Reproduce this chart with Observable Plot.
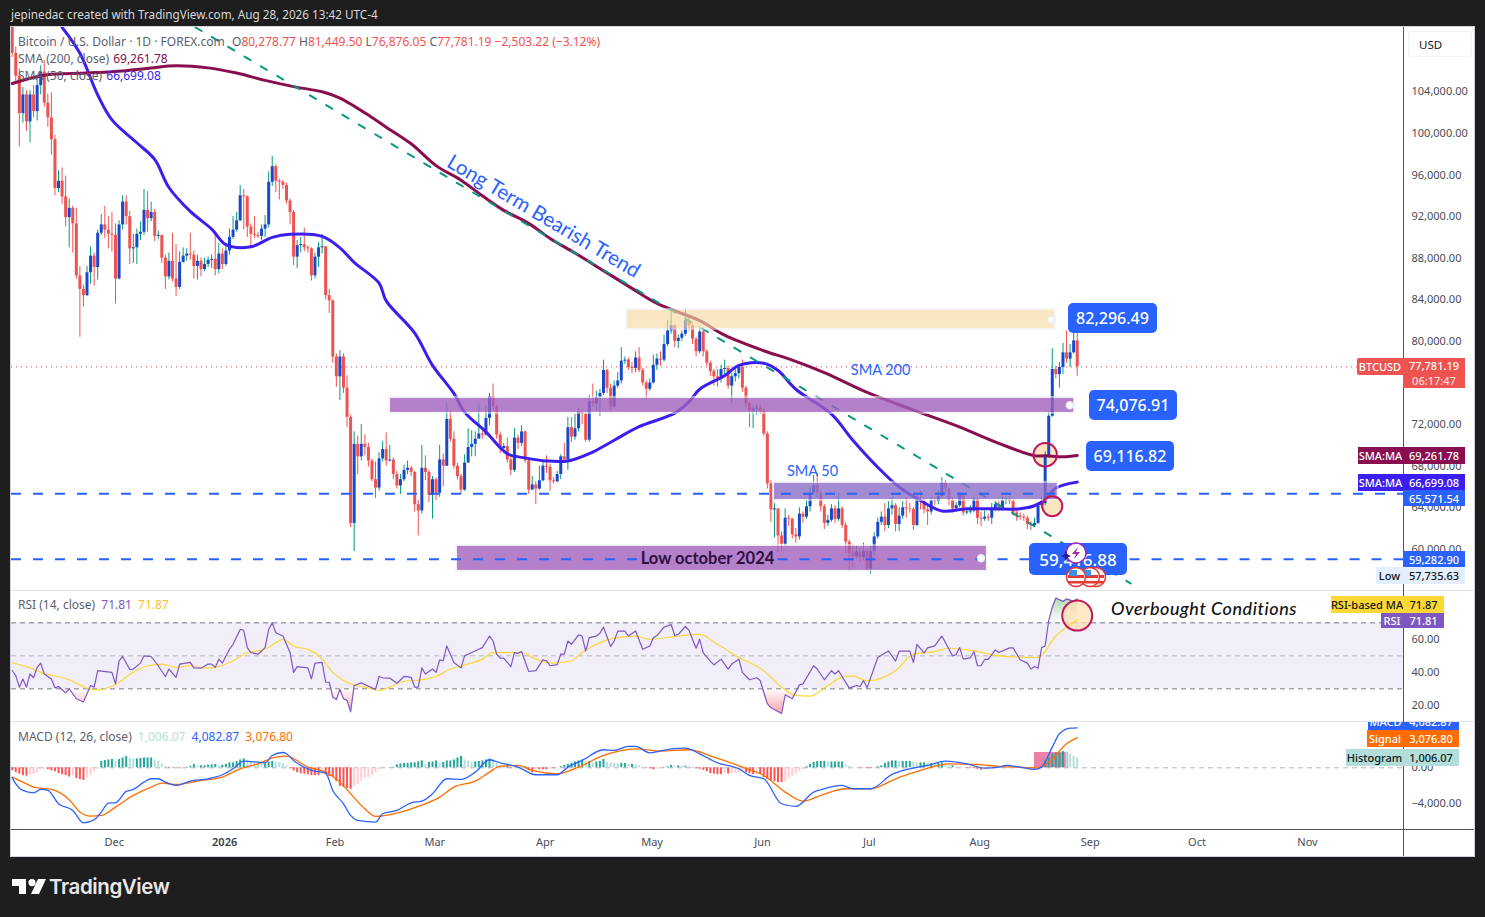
<!DOCTYPE html>
<html><head><meta charset="utf-8">
<script src="https://cdn.jsdelivr.net/npm/d3@7"></script>
<script src="https://cdn.jsdelivr.net/npm/@observablehq/plot@0.6"></script>
<style>
html,body{margin:0;padding:0;background:#1e1e1e;overflow:hidden}
#root{position:relative;width:1485px;height:917px;overflow:hidden;font-family:"Noto Sans",sans-serif}
#root svg{position:absolute;left:0;top:0}
.abs{position:absolute;white-space:nowrap;box-sizing:border-box}
.tag{position:absolute;white-space:nowrap;font-size:11px;line-height:1;display:flex;align-items:center;justify-content:center;overflow:hidden;font-weight:500}
.leg{position:absolute;white-space:nowrap;font-size:12px;line-height:14px;color:#5d606b}
.call{position:absolute;background:#2962ff;color:#fff;border-radius:5px;font-size:16px;font-weight:500;display:flex;align-items:center;justify-content:center}
</style></head><body><div id="root"></div>
<script>
// thousand-USD readings, one per day from 2 Nov 2025
const firstOpen = 110.6;
const closes = [
107.7,105.5,101.9,103.7,101.1,103.7,102.1,104.6,105.9,102.9,
101.5,99.4,94.7,95.4,93.9,91.9,92.8,91.3,86.3,85,
84.4,86.6,88.2,87.1,90.4,91.2,90.7,90.3,90.2,86,
91.2,93.4,92,88.9,89,90.3,90.5,92.6,91.8,92.4,
90.1,90.2,88,86.2,87.7,86,85.2,87.6,88.2,88.4,
88.3,87.2,87.7,86.9,87.4,87.8,87.9,86.9,88.4,87.4,
88.7,90,90.7,91.6,94,93.9,91,90.3,90.2,90.1,
90.8,91.2,95.3,96.8,95.4,95.3,95,93.5,92.4,88.1,
89.2,89.3,89,88.9,86.3,88.1,89,89.1,84.4,83.9,
78.5,76.6,78.5,75.5,72.7,62.5,70.1,68.9,70.1,69.8,
68.5,66.7,65.9,68.7,69.6,68.5,68.6,67.2,66.1,66.7,
67.6,67.8,67.4,64.3,63.7,67.8,67.4,65.2,66.7,65.4,
68.6,68,72.5,70.6,68,67,65.7,68.3,69.8,70.1,
70.6,71.1,71,72.6,74.7,73.7,71,69.7,69.9,68.6,
67.6,70.7,70.2,71.3,68.5,65.7,66.2,65.8,66.6,68,
67.9,66.6,66.5,67.2,68.9,68.6,71.7,70.8,71.6,73.2,
73,70.5,74.2,74,74.6,75,77.2,75.5,73.7,75.7,
76.2,78.1,78.2,77.5,77.4,78.4,77.2,76,75.4,76,
77.7,78.3,78.2,79.7,81,81.5,80,80.3,80.7,82,
81.5,80.2,79,80.9,79,77.9,77.1,76.6,76.4,77.3,
77.4,75.7,76.6,76.9,77.5,75.5,74,73.3,73.5,73.6,
73.3,71.1,66.3,63.8,63.9,61.3,60.5,63,62.9,61.4,
61.2,63.4,63.1,64.1,65.4,66.1,65.4,64.1,62.5,62.8,
63.9,62.9,63.9,62.3,60.7,59.6,59.3,59.75,59.2,59.8,
58.1,59.8,61.2,62.6,63.1,62.3,63.9,64.2,62.4,63.2,
64,63.9,63.85,62.3,64.8,64.6,63.8,63.6,64.7,64.6,
65.1,66.4,65.8,64.7,63.9,64.2,65.2,63.5,63.6,63.7,
64.8,63,62.9,63.1,63,63.8,64.3,63.9,64.7,64.75,
64.6,63.5,63.2,63.1,63,62.4,62.3,62.5,64.2,64.4,
69,72.8,77.3,76.8,77.5,78.9,78.3,78.9,80.05,77.55];
const highs = [
111,108.3,106.2,104.4,104.1,104.1,104.6,105.5,106.5,107,
103.8,103.9,99.8,96.4,96.7,95.9,93.7,93,92.8,87.2,
85.4,87.2,89.1,88.5,90.7,92.2,93,92,92.4,91.3,
91.6,94,94,92.5,90.3,90.8,91.5,94.6,94.4,93.4,
92.7,90.6,90.2,88.3,88.5,90.4,89.3,88.6,89,88.9,
90.4,88.7,88.3,88,88,88.1,88.3,90.4,89.4,88.9,
89.3,90.8,92,92.4,95,94.6,94,91.3,92,90.5,
91.2,92.1,96.3,97.8,97,95.6,95.5,95.2,93.7,92.6,
89.7,90,90.9,89.2,89,88.5,89.5,90.3,89.1,85,
84,78.8,79.1,78.8,76.7,72.9,71.3,70.9,72,71,
70.2,68.7,68.4,69.3,70.4,71.2,70,68.8,67.5,67.2,
68.1,68.5,68,67.5,64.7,70,69,67.6,67,66.9,
70,69.2,74,73.4,71.3,68.3,67.2,69.1,71.6,71.4,
71.3,73.9,71.4,73.7,75,75.9,73.9,71.3,70.2,70.7,
68.9,71.6,71,71.9,71.4,68.8,67,66.5,68,68.4,
69,68.2,66.9,67.5,69.1,70.2,72.7,72.7,73,73.6,
73.4,73.2,74.8,75.9,75.2,75.4,78.2,77.3,75.9,76.2,
77,79.4,78.5,78.4,78,79,79.4,77.4,76.2,76.4,
78.7,78.8,79,80.6,82,83,81.6,80.6,81,83.1,
82.4,81.6,80.4,81.4,81.2,79.2,78.1,77.3,77.3,77.7,
78.2,77.6,76.9,77.4,77.7,78.2,75.7,74.2,73.8,73.9,
73.9,73.5,71.3,66.6,64.4,63.9,61.7,63.9,63.3,63,
62,64,63.6,64.7,65.9,67.1,67.3,65.6,64.3,63.3,
64.3,64.2,65.4,64.1,62.6,60.9,60.4,60.3,60.1,60.6,
60,60.3,61.6,63,63.6,64.4,64.6,65,64.4,64,
64.6,65,64.4,64,65.4,65.6,64.9,64.2,65,65,
65.7,66.9,66.6,65.9,64.9,64.5,65.5,65.3,63.9,64.2,
65,64.9,63.6,63.7,63.4,64.4,64.6,64.6,65.1,65,
65.1,64.8,63.8,63.5,63.4,63.2,62.7,63,64.5,65,
69.4,73.2,79.3,77.6,78,79.8,81,79.7,80.9,81.22];
const lows = [
107.3,105,98.7,101,100.2,99.1,101.5,101.2,103.7,102.5,
100.6,97.9,94,94.3,93.2,91,89,88.5,86,80.4,
83.3,84.3,85.5,85.3,85.9,90.2,89.9,88.9,88.6,83.6,
85.9,90.7,91.2,87.4,87.5,87.4,89.7,90.2,90.5,91.5,
89.6,89.8,87.5,85,85.9,85.7,84.3,85,87.5,87.7,
87.8,86,85.9,86.2,86.7,87.1,87,86.3,86.5,86.9,
87.2,88.3,89.8,90.5,91.5,90.7,90,88.9,89.9,89.9,
89.7,90,90.9,94.9,94.3,93.6,94.6,93.2,91.2,87.3,
87,88.5,88.6,88.5,85.8,86,87.1,88.4,84,82.7,
77.9,75.6,74.3,75,71.7,62.1,59.8,67.2,68.5,69,
67.9,66.5,64.9,65.6,68.4,68,68.4,66.7,65.8,65.3,
66.5,67.2,67,63.6,61.3,63.4,66.6,64.5,62.9,64.7,
65,66,68,70.3,67.7,66.7,65.3,65.6,68.3,68.9,
68.9,70.8,70.6,70.9,71.9,73.4,70.6,69.2,69.5,68.3,
67.1,67.4,69.6,69.9,68.3,65.3,65.7,64.3,65.7,66.5,
67.3,65.6,66.3,66.4,66.7,68.3,67.6,70.3,70.5,71.3,
72,70.3,70.3,73.7,73.3,72.8,74.8,75,73.4,73.6,
75.5,75.9,77.8,77.2,76.9,77,77,75.7,74.4,75.2,
75.9,77.2,77.6,78,79.5,80.7,79.4,79.3,80,80.5,
81,79.7,78.5,78.8,78.5,77.6,76.6,75.7,75.6,76,
76.8,75.4,74,76.1,76.4,75.1,73.6,71.7,71.6,72.9,
73,70.9,65.8,62.6,61.1,59.7,59.8,60.3,62.2,61,
60.6,60.9,62.5,62.9,63.6,65.2,65,63.6,61.9,62.2,
62.6,62.5,62.7,62,59.6,57.9,58.3,59,58.8,58.9,
57.9,57.6,59.4,61,62.3,61.7,62,63.3,61.7,61.7,
62.9,63,63.5,61.8,62.2,63.8,63.4,62.3,63.3,64.2,
64.3,64.9,65.4,64.2,63.5,63.7,64,63.2,63.3,63.4,
63.5,62.4,62.2,62.7,62.7,62.4,63.6,63.6,63.7,64.3,
64.3,63.2,62.7,62.8,62.7,61.9,61.8,62.1,62.4,63.9,
64.2,68.8,72.7,76.4,75.5,76.8,77.9,77.5,78.8,76.65];
const sma200Days = [0,9,21,31,39,46,55,63,71,79,87,92,101,105,112,119,126,132,138,145,151,158,166,174,181,193,200,211,219,228,240,253,265,277,287,290,295,299];
const sma200Vals = [104.8,105.6,105.8,106,106.3,106.5,106.3,105.8,105.1,104.5,104,103.4,101.54,100.6,99,96.9,95.5,94,92.6,91.35,89.9,88.5,86.8,85.1,83.65,82,80.6,79.1,78.2,77,75.1,73.4,71.9,70.2,69,69,68.9,69.04];
const sma50Days = [14,19,24,28,35,40,44,50,56,60,67,73,78,87,92,96,103,105,113,118,124,127,133,139,144,150,156,162,169,176,186,190,193,200,204,211,215,220,230,236,243,249,255,261,268,275,283,287,290,293,299];
const sma50Vals = [110.2,107.7,103.7,101.3,99.1,97.5,94.8,92.5,90.8,89.3,89.1,90,90.3,90.1,89,87.6,85.6,83.9,80.8,77.7,75,73.2,71.3,69.2,68.8,68.5,68.5,69.2,70.5,71.8,73.1,74.2,75.4,76.7,77.7,77.9,77.2,75.4,73,70.5,67.9,66,64.7,63.7,63.9,63.9,63.9,64.2,64.8,65.9,66.47];
const rsiDays = [0,1,2,3,4,5,6,7,8,9,11,12,13,15,16,18,20,22,23,24,28,29,30,31,33,34,36,37,39,41,43,44,46,47,50,51,53,55,56,57,58,59,61,62,64,65,66,67,69,71,72,73,74,76,78,79,80,83,84,85,87,88,89,90,91,92,93,94,95,96,98,102,103,104,106,108,110,112,113,114,115,116,118,119,120,121,122,124,126,127,129,131,132,134,135,136,137,138,140,141,142,143,145,147,149,150,151,153,154,155,156,157,159,160,161,162,164,165,166,168,169,170,172,173,175,177,179,180,181,183,185,186,187,189,190,192,193,194,196,197,199,201,202,204,205,207,209,210,212,213,216,217,219,221,222,225,226,228,230,231,232,235,237,238,239,240,243,246,248,249,252,253,254,256,257,259,261,264,265,266,267,269,270,271,272,273,274,276,277,280,281,283,285,286,287,288,289,290,291,292,293,295,296,298,299];
const rsiVals = [41.1,38,31,36,31,39,36.7,43,45.6,39,36,30.6,31.4,27.6,30,24,22,32,31,41,40,33,47,49.6,41.7,42,45.6,50,49.6,44,37.5,42,37,45,46,42.7,42.5,45,45,43,48,45.6,54,57,66,65.5,55,52,51,55,66,70,64,62,52,40,43.5,42.7,36,45.6,46,34,34,25,23.5,29.6,24,23,16,32,33.6,29.6,37.5,36.7,36.5,33.4,37.5,37,31,31,42.7,39,42,40,47.6,47,56,46,42.7,50,52,54,55,62,59,51,48.6,48.6,43.5,52,51.5,52.6,40.5,41,47.6,47,44,44.7,51,51,59,57,62.7,62,52.8,61,62,63.7,67.4,55.7,59,65,65,62,65,54,56,61,62.3,67.4,69,62.3,63,67.8,65.4,54.6,60,51.8,46.8,44.5,48,42,45,48,40,35.5,36.7,35,21,18.5,15,26.4,24,32.4,33,44,42,35.5,41,39,41,30.4,32,31.4,35,30.6,49,53,46.8,52.8,52.8,46,57,51.8,54.8,56,62,50,50.8,55,48,48.8,52.6,44,44,47.8,47.8,53.6,52,54.8,54.8,47.6,45.6,42,43.5,42.5,55,56,71.4,79.5,85,83,84.5,83,84.5,71.81];
const rsiMaDays = [0,5,8,16,19,22,24,29,34,38,42,46,50,54,58,62,66,71,74,76,79,84,87,90,95,99,103,107,110,115,119,123,128,132,135,137,143,147,152,157,160,165,169,175,179,187,193,198,204,211,216,220,224,229,234,236,240,248,253,259,263,270,277,288,293,299];
const rsiMaVals = [45.8,42.7,40,35.5,32.4,29.6,29.4,32.6,40,44,45,43,44,42.5,43.5,47,52,54,58,60,56,53,48,40,33,31,29,32,34.6,35.5,37.5,42,45,48,52,52,52,48,45.6,47,52,58,60.7,62,60,62,63,57,49,41,31,26,25.6,32,37.7,37.7,35,41,51,52.6,54.6,53,50,49,62,71.87];
const macdDays = [0,1,3,6,8,10,13,17,20,23,25,27,29,32,34,37,39,41,43,46,50,55,59,62,65,71,73,76,77,79,84,88,90,93,95,97,102,104,108,112,115,118,122,126,130,134,137,142,147,153,156,160,166,169,173,175,179,185,189,193,198,204,207,211,216,220,225,227,233,236,241,247,252,257,262,268,273,277,279,283,287,289,292,294,297,299];
const macdVals = [-1020,-1630,-2310,-2550,-2210,-2310,-3670,-4350,-5610,-5300,-4520,-3600,-3570,-2410,-2210,-1460,-1120,-1120,-1460,-1800,-1360,-1120,-710,-100,680,510,1260,1560,1430,750,-270,-540,-2310,-3670,-4860,-5370,-5540,-4690,-4350,-3570,-3400,-2650,-1120,-1190,-440,820,510,70,-710,-710,70,750,1840,1770,2180,2180,1530,1940,2010,1430,510,-100,-780,-1120,-3670,-3940,-2480,-2240,-1800,-2140,-2140,-680,-100,240,680,410,-30,70,240,70,-170,70,2110,3470,4050,4082.87];
const signalDays = [0,3,6,11,16,19,22,25,29,34,39,42,46,53,59,64,69,74,77,83,88,92,95,99,102,108,114,120,124,130,134,137,142,146,153,159,166,175,182,190,197,205,211,217,222,227,234,241,248,255,263,271,277,282,288,292,296,299];
const signalVals = [-950,-1460,-1970,-2210,-3260,-4520,-4930,-4860,-4010,-2820,-1970,-1560,-1700,-1290,-950,-100,410,1090,1190,70,-440,-1460,-2650,-4180,-4960,-4620,-3940,-2990,-1970,-1360,-440,170,240,-270,-610,70,1260,1940,1700,1840,1090,70,-780,-2480,-3400,-2820,-2140,-2140,-1120,-270,410,340,140,70,0,920,2450,3076.8];
const histVals = [
-300,-500,-650,-800,-850,-750,-700,-500,-200,-150,
-200,-300,-400,-600,-700,-800,-950,-800,-1100,-1200,
-1290,-1000,-700,-400,-150,650,750,800,850,650,
850,1000,1150,950,900,900,950,1000,1000,1000,
800,650,400,150,-80,50,30,-100,-60,50,
150,350,200,200,200,250,300,350,200,250,
350,500,500,650,800,900,700,650,500,400,
350,400,600,650,600,550,400,200,-100,-300,
-500,-600,-650,-700,-800,-800,-800,-650,-700,-900,
-1000,-1400,-1900,-2000,-2100,-2200,-1900,-1700,-1400,-1100,
-1000,-800,-500,-200,-50,-30,20,50,300,400,
450,450,500,500,600,700,350,550,600,700,
450,550,700,700,800,1000,1150,800,700,600,
600,650,700,800,900,800,650,100,100,150,
-100,-50,50,50,100,-300,-500,-150,-200,-200,
-200,-100,-100,-50,100,250,350,450,600,700,
800,600,650,500,600,650,850,550,500,450,
400,450,450,350,350,300,200,50,-50,-100,
-200,-150,-50,50,100,250,150,200,150,150,
100,-50,-100,-150,-250,-400,-600,-650,-700,-700,
-600,-650,-600,-550,-450,-400,-500,-600,-700,-650,
-700,-1000,-1200,-1300,-1400,-1500,-1500,-1400,-1100,-900,
-700,-400,-200,100,350,550,650,650,650,600,
600,600,600,600,300,150,50,30,-30,-30,
-50,-80,-30,100,200,450,600,700,700,650,
650,650,650,600,500,500,500,450,450,400,
450,500,300,200,200,100,50,30,-50,-60,
-80,-150,-250,-100,-100,-50,30,50,150,100,
50,30,30,-30,-30,-50,-100,-150,-50,100,
700,1000,1400,1500,1500,1650,1600,1400,1150,1006.07];
const priceTicks = [60000,64000,68000,72000,80000,84000,88000,92000,96000,100000,104000];
const rsiTicks = [20,40,60];
const monthTicks = [[2025,11],[2026,1],[2026,2],[2026,3],[2026,4],[2026,5],[2026,6],[2026,7],[2026,8],[2026,9],[2026,10]];
const yearTicks = [[2026,0]];
const trendDays = [51.46,314], trendVals = [110.19,56.73];
const zones = [
 {d1:172.7,d2:292.6,p1:81.25,p2:82.98,fill:"#ffb300",op:.22},
 {d1:106.2,d2:298,p1:73.17,p2:74.52,fill:"#7b1fa2",op:.55},
 {d1:214,d2:293.4,p1:64.8,p2:66.35,fill:"#5f33b4",op:.55},
 {d1:125,d2:273.5,p1:57.98,p2:60.29,fill:"#7b1fa2",op:.55}];
const upperLevel = 65571.54, lowerLevel = 59282.9;
const lowerLevelGap = [175.6,215];
const lastPrice = 77781.19;
const zoneHandles = [{d:291.6,p:82.1},{d:296.9,p:73.85},{d:272,p:59.15}];
const circles = [{d:290,p:69.1,r:11.7},{d:292,p:64.16,r:10}];

const DAY0 = Date.UTC(2025,10,2);
const D = d => new Date(DAY0 + d*864e5);
const usd = k => k*1000 + 230; // readings were taken against the tick-label rows, the plotted prices sit 230 higher
const xDomain = [D(-0.2), D(390.6)];
const M = {marginLeft:11, marginRight:82, width:1485, height:917};
const opens = [firstOpen, ...closes.slice(0,-1)];
const candles = closes.map((c,i)=>({date:D(i),o:usd(opens[i]),c:usd(c),h:usd(highs[i]),l:usd(lows[i])}));
const up = candles.filter(d=>d.c>=d.o), down = candles.filter(d=>d.c<d.o);
const seriesOf = (days,vals,f=v=>v)=>days.map((d,i)=>({date:D(d),v:f(vals[i])}));
const root = document.getElementById("root");
const FF = '"Noto Sans",sans-serif';

// chrome background
const add=(cls,style,html)=>{const e=document.createElement("div");e.className=cls;e.style.cssText=style;if(html!=null)e.innerHTML=html;root.appendChild(e);return e;};
add("abs","left:10px;top:26px;width:1465px;height:831px;background:#fff;border:1px solid #d1d4dc");
add("abs","left:11px;top:590px;width:1463px;height:1px;background:#e0e3eb");
add("abs","left:11px;top:721px;width:1463px;height:1px;background:#e0e3eb");
add("abs","left:11px;top:829px;width:1463px;height:1px;background:#50535e");
add("abs","left:1403px;top:27px;width:1px;height:829px;background:#50535e");

// price pane
const price = Plot.plot({...M, marginTop:27, marginBottom:327,
  x:{type:"utc",domain:xDomain,axis:null},
  y:{domain:[56279,110413],axis:null},
  r:{type:"identity"},
  style:{background:"transparent",overflow:"visible",fontFamily:FF},
  marks:[
    Plot.axisY({anchor:"right",ticks:priceTicks,tickFormat:d3.format(",.2f"),tickSize:0,tickPadding:8,label:null,fontSize:11,fill:"#4a4d57",dy:-2.3}),
    Plot.ruleY([lastPrice],{stroke:"#f23645",strokeWidth:1,strokeDasharray:"1,4"}),
    Plot.dot(circles,{x:d=>D(d.d),y:d=>usd(d.p),r:"r",fill:"#ffe0b2",fillOpacity:.8}),
    Plot.ruleX(up,{x:"date",y1:"l",y2:"h",stroke:"#089981",strokeWidth:1,clip:true}),
    Plot.ruleX(down,{x:"date",y1:"l",y2:"h",stroke:"#ef5350",strokeWidth:1,clip:true}),
    Plot.ruleX(up,{x:"date",y1:"o",y2:"c",stroke:"#1848cc",strokeWidth:3,clip:true}),
    Plot.ruleX(down,{x:"date",y1:"o",y2:"c",stroke:"#ef5350",strokeWidth:3,clip:true}),
    Plot.line(seriesOf(sma50Days,sma50Vals,usd),{x:"date",y:"v",stroke:"#3a1ff0",strokeWidth:3,clip:true,curve:"catmull-rom"}),
    Plot.line(seriesOf(sma200Days,sma200Vals,usd),{x:"date",y:"v",stroke:"#880e4f",strokeWidth:3,clip:true,curve:"catmull-rom"}),
    Plot.line(seriesOf(trendDays,trendVals,usd),{x:"date",y:"v",stroke:"#089981",strokeWidth:2,strokeDasharray:"7,12",clip:true}),
    Plot.rect(zones,{x1:d=>D(d.d1),x2:d=>D(d.d2),y1:d=>usd(d.p1),y2:d=>usd(d.p2),fill:"#f0f0f4",insetTop:-2,insetBottom:-2,insetLeft:-2,insetRight:-2,fillOpacity:.55}),
    ...zones.map(z=>Plot.rect([z],{x1:d=>D(d.d1),x2:d=>D(d.d2),y1:d=>usd(d.p1),y2:d=>usd(d.p2),fill:z.fill,fillOpacity:z.op})),
    Plot.ruleY([upperLevel],{stroke:"#2962ff",strokeWidth:2,strokeDasharray:"10,12"}),
    Plot.ruleY([lowerLevel],{x1:xDomain[0],x2:D(lowerLevelGap[0]),stroke:"#2962ff",strokeWidth:2,strokeDasharray:"10,12"}),
    Plot.ruleY([lowerLevel],{x1:D(lowerLevelGap[1]),x2:xDomain[1],stroke:"#2962ff",strokeWidth:2,strokeDasharray:"10,12"}),
    Plot.dot(zoneHandles,{x:d=>D(d.d),y:d=>usd(d.p),r:3.5,fill:"#fff",stroke:"#e8e8ee"}),
    Plot.dot(circles,{x:d=>D(d.d),y:d=>usd(d.p),r:"r",fill:"none",stroke:"#c2185b",strokeWidth:2}),
    Plot.text(["Long Term Bearish Trend"],{x:D(149.2),y:usd(92.0),rotate:30.7,fill:"#2962ff",fontSize:20.5,fontFamily:"Lato,sans-serif"}),
    Plot.text(["SMA 200"],{x:D(243.8),y:usd(77.25),fill:"#2962ff",fontSize:14.5,fontFamily:"Lato,sans-serif"}),
    Plot.text(["SMA 50"],{x:D(224.7),y:usd(67.5),fill:"#2962ff",fontSize:14.5,fontFamily:"Lato,sans-serif"}),
    Plot.text(["Low october 2024"],{x:D(195.2),y:usd(59.12),fill:"#2e0f44",fontSize:16.5,fontWeight:700,fontFamily:"Lato,sans-serif"})
  ]});
root.appendChild(price);

// RSI pane
const defs = () => { const s=d3.create("svg:defs");
  const mk=(id,c,y1,y2)=>{const g=s.append("linearGradient").attr("id",id).attr("x1",0).attr("x2",0).attr("y1",y1).attr("y2",y2);
    g.append("stop").attr("offset",0).attr("stop-color",c).attr("stop-opacity",.45);
    g.append("stop").attr("offset",1).attr("stop-color",c).attr("stop-opacity",0);};
  mk("rsiUp","#4caf50",0,1); mk("rsiDn","#f23645",1,0); return s.node(); };
const rsi = seriesOf(rsiDays,rsiVals);
const R = Plot.plot({...M, marginTop:591, marginBottom:196,
  x:{type:"utc",domain:xDomain,axis:null},
  y:{domain:[10.2,89],axis:null},
  style:{background:"transparent",overflow:"visible",fontFamily:FF},
  marks:[
    defs,
    Plot.rect([{}],{x1:xDomain[0],x2:xDomain[1],y1:30,y2:70,fill:"#f1edf9"}),
    Plot.axisY({anchor:"right",ticks:rsiTicks,tickFormat:d3.format(".2f"),tickSize:0,tickPadding:8,label:null,fontSize:11,fill:"#4a4d57"}),
    Plot.ruleY([70,30],{stroke:"#787b86",strokeDasharray:"5,4"}),
    Plot.ruleY([50],{stroke:"#b4b6be",strokeDasharray:"5,4"}),
    Plot.areaY(rsi,{x:"date",y1:d=>70,y2:d=>Math.max(70,d.v),fill:"url(#rsiUp)"}),
    Plot.areaY(rsi,{x:"date",y1:d=>30,y2:d=>Math.min(30,d.v),fill:"url(#rsiDn)"}),
    Plot.dot([{}],{x:D(299),y:74.4,r:15,fill:"#ffe0b2",fillOpacity:.75}),
    Plot.line(seriesOf(rsiMaDays,rsiMaVals),{x:"date",y:"v",stroke:"#fdd835",strokeWidth:1.2,curve:"monotone-x"}),
    Plot.line(rsi,{x:"date",y:"v",stroke:"#7e57c2",strokeWidth:1.2}),
    Plot.dot([{}],{x:D(299),y:74.4,r:15,fill:"none",stroke:"#c2185b",strokeWidth:2})
  ]});
root.appendChild(R);

// MACD pane
const hist = histVals.map((v,i)=>{const p=i?histVals[i-1]:v;return {date:D(i),v,c:v>=0?(v>=p?"#26a69a":"#b2dfdb"):(v<=p?"#ff5252":"#ffcdd2")};});
const histColors = ["#26a69a","#b2dfdb","#ff5252","#ffcdd2"];
const toDate = ([y,m])=>new Date(Date.UTC(y,m,1));
const Mc = Plot.plot({...M, marginTop:722, marginBottom:88,
  x:{type:"utc",domain:xDomain,axis:null},
  y:{domain:[-6296,4622],axis:null},
  style:{background:"transparent",overflow:"visible",fontFamily:FF},
  marks:[
    Plot.axisY({anchor:"right",ticks:[0],tickFormat:d3.format(",.2f"),tickSize:0,tickPadding:8,label:null,fontSize:11,fill:"#4a4d57"}),
    Plot.axisY({anchor:"right",ticks:[-4000],tickFormat:d3.format(",.2f"),tickSize:0,tickPadding:8,label:null,fontSize:11,fill:"#4a4d57",dy:-3.3}),
    Plot.axisX(monthTicks.map(toDate),{anchor:"bottom",tickSize:0,tickPadding:9,label:null,fontSize:11,fill:"#4a4d57",dx:-1.3,tickFormat:d3.utcFormat("%b")}),
    Plot.axisX(yearTicks.map(toDate),{anchor:"bottom",tickSize:0,tickPadding:9,label:null,fontSize:11,fontWeight:600,fill:"#3a3d47",dx:-1.3,tickFormat:d3.utcFormat("%Y")}),
    Plot.ruleY([0],{stroke:"#b4b6be",strokeDasharray:"5,4"}),
    Plot.rect([{}],{x1:D(287),x2:D(296.6),y1:0,y2:1561,fill:"#d81b60",fillOpacity:.55}),
    ...histColors.map(c=>Plot.ruleX(hist.filter(d=>d.c===c),{x:"date",y1:0,y2:"v",stroke:c,strokeWidth:2})),
    Plot.line(seriesOf(signalDays,signalVals),{x:"date",y:"v",stroke:"#ff6d00",strokeWidth:1.3,curve:"monotone-x"}),
    Plot.line(seriesOf(macdDays,macdVals),{x:"date",y:"v",stroke:"#2962ff",strokeWidth:1.3,curve:"monotone-x"})
  ]});
root.appendChild(Mc);

// header, legends
add("abs","left:11px;top:7px;color:#d8d8d8;font-size:11.7px;line-height:14px","jepinedac created with TradingView.com, Aug 28, 2026 13:42 UTC-4");
const red=s=>`<span style="color:#ef5350">${s}</span>`;
add("leg","left:18px;top:35px","Bitcoin / U.S. Dollar · 1D · FOREX.com");
add("leg","left:232px;top:35px",`O${red("80,278.77")} H${red("81,449.50")} L${red("76,876.05")} C${red("77,781.19")} ${red("−2,503.22 (−3.12%)")}`);
add("leg","left:18px;top:52px",`SMA (200, close) <span style="color:#880e4f;margin-left:1px">69,261.78</span>`);
add("leg","left:18px;top:69px",`SMA (50, close) <span style="color:#3a1ff0;margin-left:1px">66,699.08</span>`);
add("leg","left:18px;top:598px",`RSI (14, close) <span style="color:#7e57c2;margin-left:3px">71.81</span> <span style="color:#fbc02d;margin-left:3px">71.87</span>`);
add("leg","left:18px;top:730px",`MACD (12, 26, close) <span style="color:#b2dfdb;margin-left:3px">1,006.07</span> <span style="color:#2962ff;margin-left:3px">4,082.87</span> <span style="color:#ff6d00;margin-left:3px">3,076.80</span>`);
add("abs","left:1408px;top:31px;width:64px;height:26px;border:1px solid #f0f3fa;border-radius:3px;color:#131722;font-size:11.5px;line-height:26px;padding-left:10px","USD");

// price tags
const tag=(x,y,w,h,bg,col,t,extra="")=>add("tag",`left:${x}px;top:${y}px;width:${w}px;height:${h}px;background:${bg};color:${col};${extra}`,t);
tag(1357,358,46,17,"#ef5350","#fff","BTCUSD","border-radius:2px 0 0 2px");
tag(1403,358,62,30,"#ef5350","#fff",'<div style="text-align:center;line-height:15px">77,781.19<br><span style="opacity:.8">06:17:47</span></div>');
tag(1358,447,45,17,"#880e4f","#fff","SMA:MA");
tag(1403,447,62,17,"#880e4f","#fff","69,261.78");
tag(1358,474,45,17,"#3a1ff0","#fff","SMA:MA");
tag(1403,474,62,17,"#3a1ff0","#fff","66,699.08");
tag(1403,490,62,16,"#2962ff","#fff","65,571.54");
tag(1403,551,62,17,"#2962ff","#fff","59,282.90");
tag(1376,567,27,17,"#e3effd","#131722","Low");
tag(1403,567,62,17,"#e3effd","#131722","57,735.63");
tag(1331,596,72,17,"#fdd835","#131722","RSI-based MA");
tag(1403,596,41,17,"#fdd835","#131722","71.87");
tag(1381,613,22,15,"#7e57c2","#fff","RSI");
tag(1403,613,41,15,"#7e57c2","#fff","71.81");
const clip=add("abs","left:1340px;top:722px;width:130px;height:8px;overflow:hidden");
clip.innerHTML='<div class="tag" style="left:28px;top:-9px;width:35px;height:17px;background:#2962ff;color:#fff">MACD</div><div class="tag" style="left:63px;top:-9px;width:56px;height:17px;background:#2962ff;color:#fff">4,082.87</div>';
tag(1367,730,36,17,"#ff6d00","#fff","Signal");
tag(1403,730,56,17,"#ff6d00","#fff","3,076.80");
tag(1346,749,57,17,"#b2dfdb","#131722","Histogram");
tag(1403,749,56,17,"#b2dfdb","#131722","1,006.07");

// price callouts
const call=(x,y,w,h,t)=>add("call",`left:${x}px;top:${y}px;width:${w}px;height:${h}px`,t);
call(1068,303,89,30,"82,296.49");
call(1089,390,88,30,"74,076.91");
call(1086,441,88,30,"69,116.82");
call(1029,543,98,32,'<span style="font-size:17px">59,416.88</span>');
add("abs","left:1111px;top:597px;color:#111;font-size:18px;font-style:italic;font-family:Lato,sans-serif;font-weight:500;letter-spacing:.55px","Overbought Conditions");

// event icons
const flag=(cx)=>`<g transform="translate(${cx},37)"><circle r="9.5" fill="#fff" stroke="#e53935" stroke-width="1.5"/><path d="M-8 -2h16v3h-16zM-8 4h16v2.5h-16z" fill="#e53935"/><rect x="-7" y="-7" width="8" height="6" fill="#3f8fe8"/></g>`;
const ico=add("abs","left:1056px;top:540px;width:60px;height:50px");
ico.innerHTML=`<svg width="60" height="50" style="position:absolute;left:0;top:0;overflow:visible">
${flag(40)}${flag(34)}${flag(20)}
<circle cx="20" cy="13" r="10" fill="#fff" stroke="#9c27b0" stroke-width="1.5"/>
<path d="M22 7l-6 7h4l-2 5 6-7h-4z" fill="#9c27b0"/>
<path d="M10 11l1.6 3.4L15 16l-3.4 1.6L10 21l-1.6-3.4L5 16l3.4-1.6z" fill="#311b92"/></svg>`;

// logo
const logo=add("abs","left:12px;top:879px;height:16px;width:34px");
logo.innerHTML='<svg width="34" height="16" style="position:absolute;left:0;top:0"><path d="M0 0h14v15H7V7H0z" fill="#fff"/><circle cx="20" cy="3.6" r="3.6" fill="#fff"/><path d="M26 0h8l-7 15h-8z" fill="#fff"/></svg>';
add("abs","left:49px;top:873px;color:#e8e8e8;font-size:20.5px;font-weight:600;line-height:28px;font-family:Inter,sans-serif;letter-spacing:-.4px","TradingView");
</script></body></html>
